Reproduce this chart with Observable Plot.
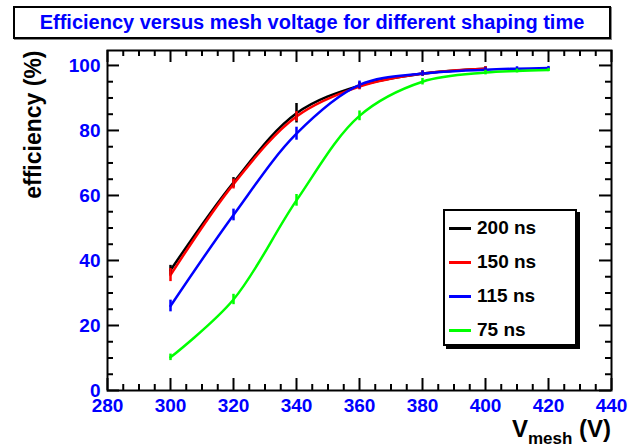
<!DOCTYPE html>
<html>
<head>
<meta charset="utf-8">
<script src="https://cdn.jsdelivr.net/npm/d3@7"></script>
<script src="https://cdn.jsdelivr.net/npm/@observablehq/plot@0.6"></script>
<style>
  body { margin: 0; background: #fff; }
  #wrap { position: relative; width: 628px; height: 447px; font-family: "Liberation Sans", Arial, sans-serif; font-weight: bold; }
  #wrap svg { position: absolute; left: 0; top: 0; }
  #title { position: absolute; left: 13px; top: 6px; width: 598px; height: 33px; box-sizing: border-box;
           border: 2px solid #000; box-shadow: 1px 1px 0 #888; background: #fff;
           color: #0000ff; font-size: 20px; line-height: 29px; text-align: center; }
  #legend { position: absolute; left: 443px; top: 209px; width: 134px; height: 137px; box-sizing: border-box;
            border: 2px solid #000; box-shadow: 3px 3px 0 #000; background: #fff; }
  .entry { position: absolute; left: 0; height: 24px; width: 130px; }
  .entry .swatch { position: absolute; left: 4px; top: 11px; width: 22px; height: 3px; }
  .entry .name { position: absolute; left: 32px; top: 0; font-size: 19px; line-height: 24px; color: #000; }
  #xtitle { position: absolute; right: 17px; top: 416px; font-size: 24px; line-height: 26px; color: #000; white-space: nowrap; }
  #xtitle sub { font-size: 17px; vertical-align: -7px; }
</style>
</head>
<body>
<div id="wrap">
  <div id="title">Efficiency versus mesh voltage for different shaping time</div>
  <div id="xtitle">V<sub>mesh</sub> (V)</div>
</div>
<script>
// Shaping times (legend order) and their line colours
const series = ["200 ns", "150 ns", "115 ns", "75 ns"];
const colors = ["#000000", "#ff0000", "#0000ff", "#00ff00"];

// Mesh voltage (V), efficiency (%) and its uncertainty for each shaping time
const v200 = [300, 320, 340, 360, 380, 400];
const eff200 = [37, 64, 85.3, 93.8, 97.5, 99];
const err200 = [1.5, 1.5, 3, 1, 0.8, 0.6];

const v150 = [300, 320, 340, 360, 380, 400];
const eff150 = [35.5, 63.5, 84.3, 93.5, 97.5, 99];
const err150 = [2, 1.5, 1.5, 1, 0.8, 0.6];

const v115 = [300, 320, 340, 360, 380, 400, 410, 420];
const eff115 = [26, 54, 79, 94, 97.5, 98.7, 99, 99.2];
const err115 = [1.8, 1.8, 2, 1.2, 0.8, 0.6, 0.6, 0.5];

const v75 = [300, 320, 340, 360, 380, 400, 410, 420];
const eff75 = [10.2, 28, 58.5, 84.5, 95, 97.8, 98.3, 98.6];
const err75 = [1, 1.6, 1.8, 1.5, 1, 0.7, 0.6, 0.5];

// Axis ticks
const xMajor = [280, 300, 320, 340, 360, 380, 400, 420, 440];
const xMinor = d3.range(280, 441, 5).filter(v => v % 20 !== 0);
const yMajor = [0, 20, 40, 60, 80, 100];
const yMinor = d3.range(0, 105, 5).filter(v => v % 20 !== 0);

const table = [
  [v200, eff200, err200],
  [v150, eff150, err150],
  [v115, eff115, err115],
  [v75, eff75, err75]
];
const rows = table.flatMap(([vs, es, rs], k) =>
  vs.map((v, i) => ({series: series[k], v, eff: es[i], err: rs[i]})));

const W = 628, H = 447;
const mL = 107, mR = 17, mT = 50, mB = 57;
const FW = W - mL - mR, FH = H - mT - mB;
const font = {fontSize: 19, fontWeight: "bold", fill: "#0000ff", fontFamily: "Liberation Sans, Arial, sans-serif"};

const chart = Plot.plot({
  width: W,
  height: H,
  marginLeft: mL,
  marginRight: mR,
  marginTop: mT,
  marginBottom: mB,
  style: {background: "transparent", fontFamily: "Liberation Sans, Arial, sans-serif"},
  x: {domain: [280, 440]},
  y: {domain: [0, 104.6]},
  color: {domain: series, range: colors},
  marks: [
    // inward ticks on all four sides
    Plot.tickX(xMajor, {x: d => d, insetTop: FH - 12, strokeWidth: 2}),
    Plot.tickX(xMajor, {x: d => d, insetBottom: FH - 12, strokeWidth: 2}),
    Plot.tickX(xMinor, {x: d => d, insetTop: FH - 6, strokeWidth: 2}),
    Plot.tickX(xMinor, {x: d => d, insetBottom: FH - 6, strokeWidth: 2}),
    Plot.tickY(yMajor, {y: d => d, insetRight: FW - 12, strokeWidth: 2}),
    Plot.tickY(yMajor, {y: d => d, insetLeft: FW - 12, strokeWidth: 2}),
    Plot.tickY(yMinor, {y: d => d, insetRight: FW - 6, strokeWidth: 2}),
    Plot.tickY(yMinor, {y: d => d, insetLeft: FW - 6, strokeWidth: 2}),
    Plot.axisX(xMajor, {tickSize: 0, tickPadding: 8, label: null, ...font}),
    Plot.axisY(yMajor, {tickSize: 0, tickPadding: 7, label: null, ...font}),
    Plot.text(["efficiency (%)"], {
      frameAnchor: "top-left", dx: -83, dy: 0, rotate: -90, textAnchor: "end",
      fontSize: 23, fontWeight: "bold", fill: "#000"
    }),
    // smooth curves through the measured points, with vertical error bars
    Plot.line(rows, {x: "v", y: "eff", z: "series", stroke: "series", curve: "catmull-rom", strokeWidth: 2.5}),
    Plot.ruleX(rows, {x: "v", y1: d => d.eff - d.err, y2: d => d.eff + d.err, stroke: "series", strokeWidth: 2.5}),
    Plot.frame({stroke: "#000", strokeWidth: 2})
  ]
});
const wrap = document.getElementById("wrap");
wrap.insertBefore(chart, wrap.firstChild);

// Legend box
const legend = document.createElement("div");
legend.id = "legend";
series.forEach((s, i) => {
  const e = document.createElement("div");
  e.className = "entry";
  e.style.top = (5 + i * 34) + "px";
  e.innerHTML = `<div class="swatch" style="background:${colors[i]}"></div><div class="name">${s}</div>`;
  legend.appendChild(e);
});
wrap.appendChild(legend);
</script>
</body>
</html>
